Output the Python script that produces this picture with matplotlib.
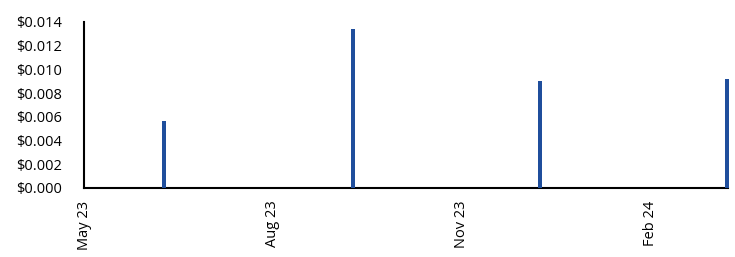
import matplotlib.pyplot as plt
import matplotlib.ticker as mticker
import pandas as pd

# dados
datas = pd.to_datetime(['2023-06-09', '2023-09-09', '2023-12-09', '2024-03-09'])
valores = [0.00565, 0.01341, 0.00902, 0.00919]
ticks = pd.to_datetime(['2023-05-01', '2023-08-01', '2023-11-01', '2024-02-01'])
tick_labels = ['May 23', 'Aug 23', 'Nov 23', 'Feb 24']

plt.rcParams['font.family'] = ['Open Sans', 'DejaVu Sans']

fig = plt.figure(figsize=(7.35, 2.57), dpi=100)
ax = fig.add_axes([84 / 735, 69 / 257, 644 / 735, 166 / 257])

ax.bar(datas, valores, width=1.8, color='#1f4e9c', clip_on=False, zorder=3)

ax.set_xlim(pd.Timestamp('2023-05-01'), pd.Timestamp('2024-03-09 12:00'))
ax.set_ylim(0, 0.014)
ax.yaxis.set_major_locator(mticker.MultipleLocator(0.002))
ax.yaxis.set_major_formatter(mticker.FuncFormatter(lambda v, p: '${:.3f}'.format(v)))

ax.set_xticks(ticks)
ax.set_xticklabels(tick_labels, rotation=90, ha='center', va='top')

ax.tick_params(axis='both', length=0, labelsize=10.5, colors='black')
ax.tick_params(axis='y', pad=16)
ax.tick_params(axis='x', pad=9)

for s in ['top', 'right']:
    ax.spines[s].set_visible(False)
for s in ['left', 'bottom']:
    ax.spines[s].set_linewidth(1.5)
    ax.spines[s].set_color('black')

plt.savefig('out.png', dpi=100)
